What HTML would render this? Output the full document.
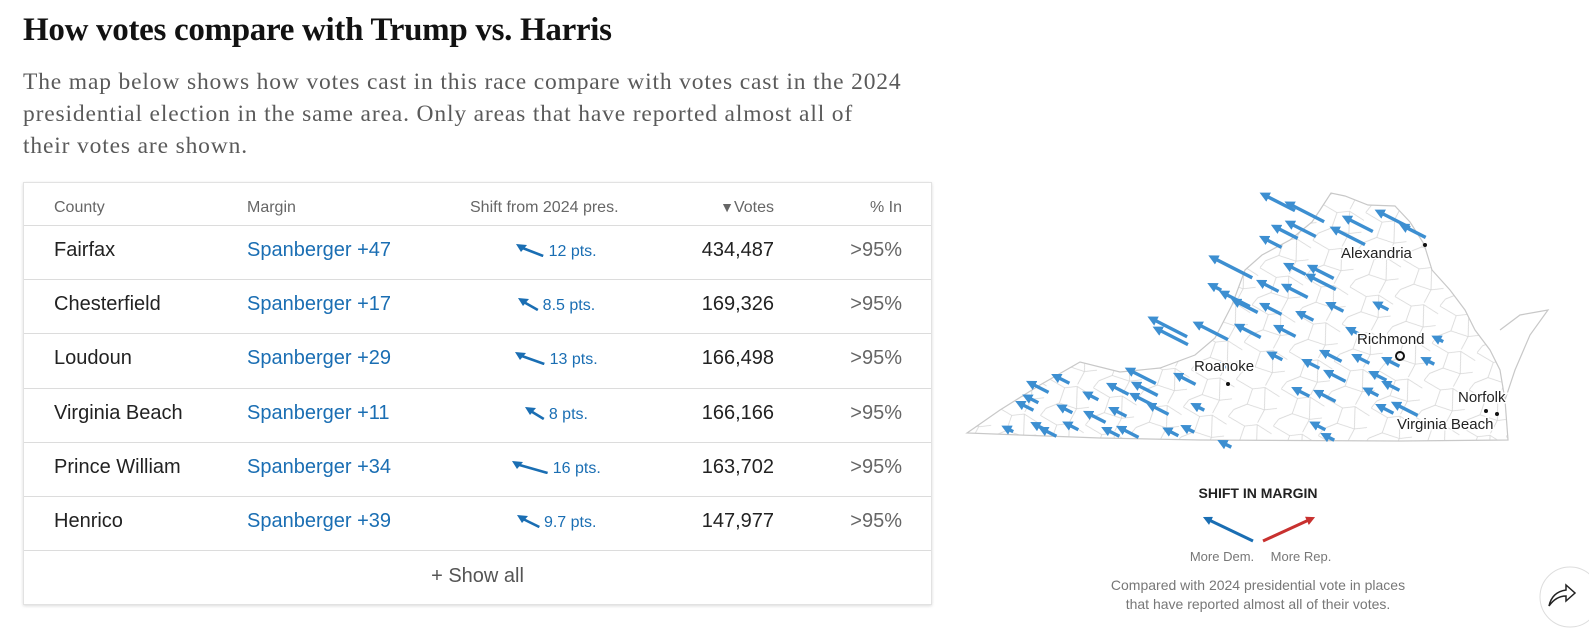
<!DOCTYPE html>
<html><head><meta charset="utf-8">
<style>
body{margin:0;width:1589px;height:628px;background:#fff;overflow:hidden;position:relative;font-family:"Liberation Sans",sans-serif}
.t{position:absolute;white-space:nowrap}
h1{position:absolute;left:23px;top:12px;margin:0;font:bold 33px "Liberation Serif",serif;color:#121212;letter-spacing:-0.3px}
.desc{position:absolute;left:23px;top:66px;width:960px;white-space:nowrap;font:23.5px/32px "Liberation Serif",serif;letter-spacing:0.85px;color:#5a5a5a}
.tbl{position:absolute;left:23px;top:182px;width:907px;height:421px;border:1px solid #e2e2e2;box-shadow:0 1px 3px rgba(0,0,0,.15);background:#fff}
.row{position:absolute;left:0;width:907px;border-top:1px solid #dcdcdc}
.h{font-size:16px;color:#666;top:16px}
.c{font-size:20px;color:#222}
.m{font-size:20px;color:#1a6eb3}
.s{font-size:16px;color:#1a6eb3}
.p{font-size:20px;color:#666}
</style></head><body>
<h1>How votes compare with Trump vs. Harris</h1>
<div class="desc">The map below shows how votes cast in this race compare with votes cast in the 2024<br>presidential election in the same area. Only areas that have reported almost all of<br>their votes are shown.</div>
<div class="tbl" id="tbl">
 <div class="t h" style="left:30px">County</div>
 <div class="t h" style="left:223px">Margin</div>
 <div class="t h" style="left:446px">Shift from 2024 pres.</div>
 <div class="t h" style="right:157px"><span style="font-size:14px">▼</span>Votes</div>
 <div class="t h" style="right:29px">% In</div>
 <div class="row" style="top:367px;height:54px">
  <div class="t" style="left:0;width:907px;text-align:center;top:14px;font-size:20px;color:#555">+ Show all</div>
 </div>
</div>
<svg width="1589" height="628" style="position:absolute;left:0;top:0" id="map">
 <defs>
  <pattern id="cty" width="46" height="38" patternUnits="userSpaceOnUse" patternTransform="rotate(12)">
   <path d="M0 0 L18 6 L30 2 L46 8 M18 6 L16 22 L4 30 M16 22 L34 24 L46 20 M30 2 L34 24 L30 38 M4 30 L0 38" stroke="#d6d6d6" stroke-width="0.8" fill="none"/>
  </pattern>
  <marker id="ah" viewBox="0 0 10 10" refX="4" refY="5" markerWidth="3" markerHeight="3" orient="auto"><path d="M0 0L10 5L0 10z" fill="#3d8fd1"/></marker>
  <marker id="ahb" viewBox="0 0 10 10" refX="5" refY="5" markerWidth="3" markerHeight="3" orient="auto"><path d="M0 0L10 5L0 10z" fill="#1a6eb3"/></marker>
  <marker id="ahr" viewBox="0 0 10 10" refX="5" refY="5" markerWidth="3" markerHeight="3" orient="auto"><path d="M0 0L10 5L0 10z" fill="#c8312f"/></marker>
 </defs>
 <g>
  <polygon points="967,433 1000,410 1040,385 1080,362 1120,372 1160,368 1195,355 1215,338 1232,305 1245,270 1262,255 1290,240 1312,222 1320,210 1331,193 1345,196 1368,205 1395,206 1410,222 1424,244 1432,270 1450,290 1465,310 1475,330 1490,350 1500,370 1505,400 1508,440 1400,441 1200,440 1100,438" fill="url(#cty)" stroke="#c8c8c8" stroke-width="1.2"/>
  <path d="M1500 330 L1520 315 L1548 310 L1530 335 L1515 370 L1505 400" fill="none" stroke="#c8c8c8" stroke-width="1.2"/>
 </g>
 <g id="arrows"></g>
 <g font-size="15" fill="#222">
  <circle cx="1425" cy="245" r="2" fill="#111"/><text x="1341" y="258" stroke="#fff" stroke-width="3" paint-order="stroke">Alexandria</text>
  <circle cx="1400" cy="356" r="4" fill="none" stroke="#111" stroke-width="2"/><text x="1357" y="344" stroke="#fff" stroke-width="3" paint-order="stroke">Richmond</text>
  <circle cx="1228" cy="384" r="2" fill="#111"/><text x="1194" y="371" stroke="#fff" stroke-width="3" paint-order="stroke">Roanoke</text>
  <circle cx="1486" cy="411" r="2" fill="#111"/><circle cx="1497" cy="414" r="2" fill="#111"/>
  <text x="1458" y="402" stroke="#fff" stroke-width="3" paint-order="stroke">Norfolk</text>
  <text x="1397" y="429" stroke="#fff" stroke-width="3" paint-order="stroke">Virginia Beach</text>
 </g>
 <g>
  <text x="1258" y="498" text-anchor="middle" font-size="14" font-weight="bold" fill="#222">SHIFT IN MARGIN</text>
  <line x1="1253" y1="541" x2="1207" y2="519" stroke="#1a6eb3" stroke-width="3" marker-end="url(#ahb)"/>
  <line x1="1263" y1="541" x2="1311" y2="519" stroke="#c8312f" stroke-width="3" marker-end="url(#ahr)"/>
  <text x="1222" y="561" text-anchor="middle" font-size="13" fill="#777">More Dem.</text>
  <text x="1301" y="561" text-anchor="middle" font-size="13" fill="#777">More Rep.</text>
  <text x="1258" y="590" text-anchor="middle" font-size="14" fill="#777">Compared with 2024 presidential vote in places</text>
  <text x="1258" y="609" text-anchor="middle" font-size="14" fill="#777">that have reported almost all of their votes.</text>
 </g>
 <g>
  <circle cx="1570" cy="597" r="30" fill="#fff" stroke="#ddd"/>
  <path d="M1549 606 Q1552 592 1566 590 L1566 585 L1575 593 L1566 601 L1566 596 Q1556 596 1549 606z" fill="none" stroke="#222" stroke-width="1.5"/>
 </g>
</svg>
<script>
const counties=["Fairfax","Chesterfield","Loudoun","Virginia Beach","Prince William","Henrico"];
const margins=[47,17,29,11,34,39];
const shifts=[12,8.5,13,8,16,9.7];
const votes=["434,487","169,326","166,498","166,166","163,702","147,977"];
const pctIn=[">95%",">95%",">95%",">95%",">95%",">95%"];
const arrowX=[1280,1307,1350,1287,1303,1233,1273,1297,1323,1270,1323,1297,1237,1217,1247,1273,1307,1337,1383,1170,1173,1213,1250,1287,1357,1440,1333,1363,1393,1430,1277,1313,1227,1143,1120,1147,1187,1337,1380,1393,1327,1303,1373,1407,1387,1063,1040,1033,1027,1067,1093,1097,1143,1160,1120,1200,1040,1050,1073,1010,1113,1130,1173,1190,1227,1320,1330,1360,1395,1415];
const arrowY=[203,213,237,233,230,268,243,270,273,287,283,292,300,288,307,310,317,308,307,328,337,332,332,332,333,340,357,360,363,362,357,365,367,377,390,390,380,377,377,387,397,393,393,410,410,380,388,400,407,410,397,418,400,410,413,408,427,433,427,430,433,433,433,430,445,427,438,225,220,232];
const arrowShift=[14,16,14,10,12,18,8,8,10,8,12,10,12,4,10,8,6,6,5,16,14,14,10,8,6,3,8,6,6,4,5,6,4,12,8,10,8,8,6,6,8,6,5,10,6,6,8,5,6,5,5,8,8,8,6,4,4,6,5,3,6,8,5,4,4,5,4,12,14,10];
const tbl=document.getElementById('tbl');
counties.forEach((c,i)=>{
 const r=document.createElement('div');
 r.className='row';r.style.top=(42+i*54.2)+'px';r.style.height='54px';
 
 
 const L=Math.max(16,shifts[i]*2.1);
 r.innerHTML=`<div class="t c" style="left:30px;top:13px">${c}</div>
<div class="t m" style="left:223px;top:13px">Spanberger +${margins[i]}</div>
<div class="t s" style="left:430px;width:205px;text-align:center;top:17px"><svg width="${L+4}" height="14" style="vertical-align:-1px;margin-right:3px"><line x1="${L+2}" y1="13" x2="4" y2="4" stroke="#1a6eb3" stroke-width="2.6"/><path d="M0 1 L11 2 L5 9z" fill="#1a6eb3"/></svg>${shifts[i]} pts.</div>
<div class="t c" style="right:157px;top:13px">${votes[i]}</div>
<div class="t p" style="right:29px;top:13px">${pctIn[i]}</div>`;
 tbl.appendChild(r);
});
const g=document.getElementById('arrows');
const ns='http://www.w3.org/2000/svg';
const ang=Math.PI*27/180;
arrowX.forEach((x,i)=>{
 const L=arrowShift[i]*2.4;
 const y=arrowY[i];
 const l=document.createElementNS(ns,'line');
 l.setAttribute('x1',x+L/2*Math.cos(ang));l.setAttribute('y1',y+L/2*Math.sin(ang));
 l.setAttribute('x2',x-L/2*Math.cos(ang));l.setAttribute('y2',y-L/2*Math.sin(ang));
 l.setAttribute('stroke','#3d8fd1');l.setAttribute('stroke-width','3.4');
 l.setAttribute('marker-end','url(#ah)');
 
 
 g.appendChild(l);
});
</script>
</body></html>
